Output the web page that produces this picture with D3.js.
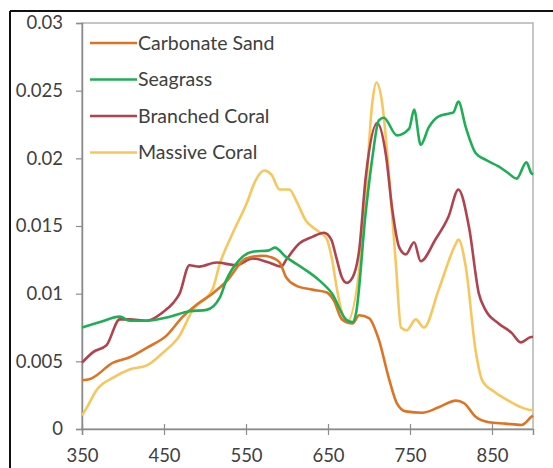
<!DOCTYPE html>
<html>
<head>
<meta charset="utf-8">
<script src="https://cdn.jsdelivr.net/npm/d3@7"></script>
<style>
  body { margin: 0; background: #fff; }
  text { font-family: Lato, "Open Sans", sans-serif; fill: #404040; }
</style>
</head>
<body>
<script>
// wavelength (nm) / reflectance pairs
const seriesNames = ["Carbonate Sand", "Seagrass", "Branched Coral", "Massive Coral"];
const seriesColors = ["#dd7424", "#1fae55", "#b0434e", "#f6c75e"];

const sandW = [350, 360, 388, 408, 429, 453, 473, 490, 509, 526, 550, 570, 580, 591, 599, 611, 631, 648, 657, 667, 680, 688, 700, 712, 724, 734, 745, 765, 785, 806, 816, 830, 846, 866, 886, 898, 900];
const sandV = [0.0036, 0.0037, 0.0049, 0.0053, 0.0060, 0.0069, 0.0083, 0.0092, 0.0100, 0.0109, 0.0126, 0.0128, 0.0127, 0.0123, 0.0112, 0.0106, 0.0103, 0.0101, 0.0095, 0.0081, 0.0078, 0.0084, 0.0082, 0.0066, 0.0038, 0.0019, 0.0013, 0.0012, 0.0016, 0.0021, 0.0019, 0.0009, 0.0005, 0.0004, 0.0003, 0.0009, 0.0010];

const grassW = [350, 372, 396, 408, 429, 457, 481, 502, 518, 526, 542, 558, 578, 585, 599, 619, 639, 655, 672, 680, 684, 696, 704, 712, 718, 734, 749, 755, 763, 773, 785, 797, 803, 809, 818, 830, 842, 858, 870, 880, 892, 898, 900];
const grassV = [0.0075, 0.0079, 0.0083, 0.0080, 0.0080, 0.0083, 0.0087, 0.0088, 0.0097, 0.0110, 0.0125, 0.0131, 0.0132, 0.0134, 0.0127, 0.0119, 0.0110, 0.0100, 0.0081, 0.0079, 0.0085, 0.0160, 0.0200, 0.0228, 0.0230, 0.0217, 0.0222, 0.0236, 0.0210, 0.0223, 0.0231, 0.0233, 0.0234, 0.0242, 0.0223, 0.0204, 0.0199, 0.0194, 0.0189, 0.0185, 0.0197, 0.0189, 0.0188];

const branchW = [350, 364, 380, 396, 408, 429, 448, 461, 469, 481, 493, 514, 538, 558, 578, 593, 599, 615, 631, 645, 654, 660, 667, 673, 680, 688, 696, 710, 721, 728, 737, 745, 755, 763, 781, 797, 809, 822, 834, 842, 858, 874, 885, 898, 900];
const branchV = [0.0049, 0.0057, 0.0062, 0.0081, 0.0081, 0.0080, 0.0086, 0.0093, 0.0100, 0.0121, 0.0120, 0.0123, 0.0121, 0.0126, 0.0123, 0.0120, 0.0125, 0.0137, 0.0142, 0.0145, 0.0140, 0.0127, 0.0112, 0.0108, 0.0112, 0.0132, 0.0186, 0.0226, 0.0201, 0.0164, 0.0134, 0.0129, 0.0138, 0.0124, 0.0140, 0.0157, 0.0177, 0.0149, 0.0100, 0.0088, 0.0078, 0.0071, 0.0064, 0.0068, 0.0068];

const massiveW = [350, 356, 368, 388, 408, 429, 448, 469, 485, 509, 518, 534, 551, 562, 572, 581, 591, 603, 611, 623, 636, 648, 655, 661, 667, 673, 694, 704, 709, 716, 724, 733, 739, 746, 757, 767, 785, 806, 809, 818, 830, 838, 854, 870, 886, 898, 900];
const massiveV = [0.0010, 0.0016, 0.0029, 0.0038, 0.0044, 0.0047, 0.0056, 0.0069, 0.0088, 0.0103, 0.0122, 0.0145, 0.0167, 0.0184, 0.0191, 0.0188, 0.0177, 0.0177, 0.0169, 0.0154, 0.0147, 0.0141, 0.0125, 0.0103, 0.0086, 0.0079, 0.0154, 0.0241, 0.0256, 0.0241, 0.0191, 0.0120, 0.0075, 0.0073, 0.0081, 0.0075, 0.0103, 0.0137, 0.0140, 0.0120, 0.0058, 0.0036, 0.0027, 0.0021, 0.0016, 0.0014, 0.0014];

const xTicks = [350, 450, 550, 650, 750, 850];
const yTicks = [0, 0.005, 0.01, 0.015, 0.02, 0.025, 0.03];
const yTickLabels = ["0", "0.005", "0.01", "0.015", "0.02", "0.025", "0.03"];

const allW = [sandW, grassW, branchW, massiveW];
const allV = [sandV, grassV, branchV, massiveV];

const svg = d3.select('body')
    .append('svg')
    .attr("width", 553)
    .attr("height", 468);

const plot = { left: 82, top: 23, right: 533, bottom: 429 };

const x = d3.scaleLinear().domain([350, 900]).range([plot.left, plot.right]);
const y = d3.scaleLinear().domain([0, 0.03]).range([plot.bottom, plot.top]);

// plot area frame (light grey)
svg.append('rect')
    .attr('x', plot.left).attr('y', plot.top)
    .attr('width', plot.right - plot.left).attr('height', plot.bottom - plot.top)
    .attr('fill', 'none').attr('stroke', '#b4b4b4').attr('stroke-width', 1.5);

// y axis
const yAxis = svg.append('g')
    .attr('transform', `translate(${plot.left},0)`)
    .call(d3.axisLeft(y).tickValues(yTicks).tickSize(6).tickPadding(13)
        .tickFormat((d, i) => yTickLabels[i]));
yAxis.select('.domain').attr('stroke', '#8c8c8c').attr('stroke-width', 1.5);
yAxis.selectAll('.tick line').attr('stroke', '#8c8c8c').attr('stroke-width', 1.2);
yAxis.selectAll('.tick text').attr('font-size', 18.5).attr('fill', '#404040');

// x axis (ticks cross the axis line)
const xAxis = svg.append('g')
    .attr('transform', `translate(0,${plot.bottom})`)
    .call(d3.axisBottom(x).tickValues(xTicks).tickSize(6).tickPadding(14).tickFormat(d3.format('d')));
xAxis.select('.domain').attr('stroke', '#8c8c8c').attr('stroke-width', 1.5);
xAxis.selectAll('.tick line').attr('y1', -5).attr('stroke', '#8c8c8c').attr('stroke-width', 1.2);
xAxis.selectAll('.tick text').attr('font-size', 18.5).attr('fill', '#404040');

// spectra
const line = d3.line()
    .x(d => x(d[0]))
    .y(d => y(d[1]))
    .curve(d3.curveMonotoneX);

const drawOrder = [3, 2, 0, 1];
drawOrder.forEach(i => {
    const pts = allW[i].map((w, j) => [w, allV[i][j]]);
    svg.append('path')
        .datum(pts)
        .attr('d', line)
        .attr('fill', 'none')
        .attr('stroke', seriesColors[i])
        .attr('stroke-width', 2.6)
        .attr('stroke-linejoin', 'round');
});

// legend
const legend = svg.append('g');
seriesNames.forEach((name, i) => {
    const ly = 43 + i * 36.5;
    legend.append('line')
        .attr('x1', 90).attr('x2', 137)
        .attr('y1', ly).attr('y2', ly)
        .attr('stroke', seriesColors[i]).attr('stroke-width', 2.6);
    legend.append('text')
        .attr('x', 138).attr('y', ly)
        .attr('dy', '0.35em')
        .attr('font-size', 19.5)
        .text(name);
});

// outer black frame (only top and left edges fall inside the picture)
svg.append('line').attr('x1', 10).attr('x2', 553).attr('y1', 11).attr('y2', 11)
    .attr('stroke', '#111').attr('stroke-width', 2);
svg.append('line').attr('x1', 10).attr('x2', 10).attr('y1', 11).attr('y2', 468)
    .attr('stroke', '#111').attr('stroke-width', 2);
</script>
</body>
</html>
